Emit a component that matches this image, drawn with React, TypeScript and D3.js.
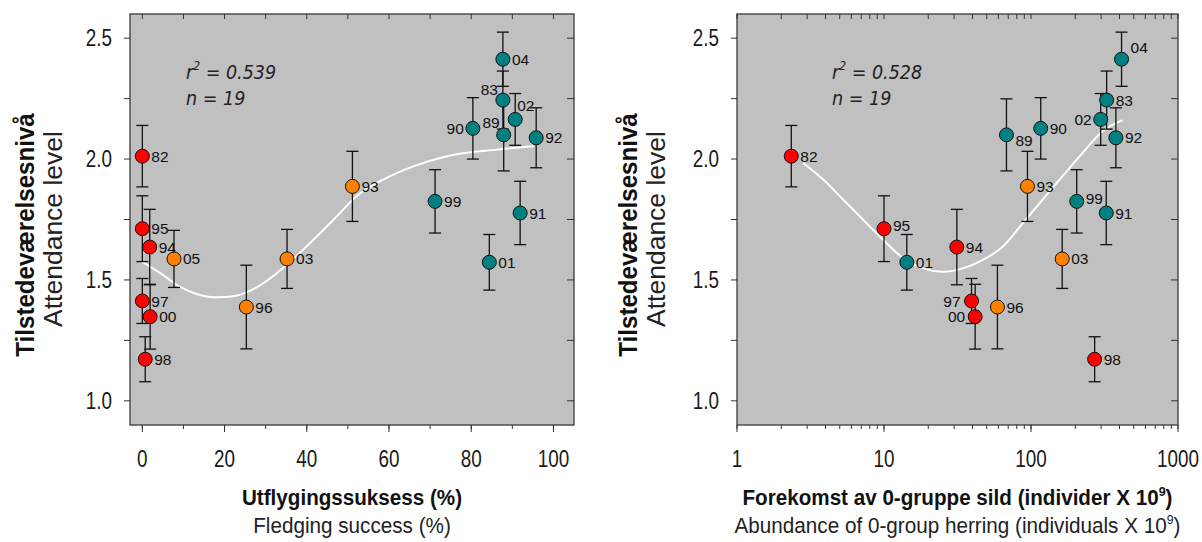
import React from "react";
import * as d3 from "d3";

// ---------- data ----------
const years = ["82", "95", "94", "97", "00", "98", "05", "96", "03", "93", "99", "01", "91", "90", "92", "02", "89", "83", "04"];
const groups = ["red", "red", "red", "red", "red", "red", "orange", "orange", "orange", "orange", "teal", "teal", "teal", "teal", "teal", "teal", "teal", "teal", "teal"];
const fledgingSuccess = [0, 0, 1.8, 0, 1.9, 0.7, 7.7, 25.3, 35.2, 51.1, 71.2, 84.4, 91.9, 80.4, 95.8, 90.7, 87.9, 87.7, 87.7];
const herringAbundance: (number | null)[] = [2.34, 10, 31.3, 39.4, 41.7, 271, null, 59.1, 163, 94.6, 204.6, 14.3, 325, 116.5, 378, 298, 68.1, 327, 413];
const attendance = [2.012, 1.712, 1.636, 1.413, 1.348, 1.172, 1.587, 1.388, 1.587, 1.887, 1.825, 1.573, 1.777, 2.127, 2.088, 2.164, 2.1, 2.244, 2.413];
const attendanceErr = [0.127, 0.136, 0.156, 0.093, 0.134, 0.093, 0.118, 0.173, 0.122, 0.145, 0.131, 0.115, 0.131, 0.127, 0.124, 0.107, 0.149, 0.12, 0.112];

const fitFledgingX = [0, 5.0, 9.1, 13.2, 18.0, 22.9, 29.4, 35.1, 41.6, 47.3, 52.1, 58.6, 65.9, 74.1, 86.2, 95.2];
const fitFledgingY = [1.575, 1.521, 1.472, 1.442, 1.428, 1.435, 1.486, 1.562, 1.666, 1.763, 1.846, 1.915, 1.97, 2.012, 2.039, 2.053];
const fitHerringX = [2.82, 3.86, 5.28, 7.21, 9.86, 13.5, 18.4, 25.2, 34.4, 47.1, 64.4, 87.9, 120, 164, 225, 307, 420];
const fitHerringY = [1.984, 1.915, 1.832, 1.749, 1.666, 1.59, 1.548, 1.534, 1.548, 1.583, 1.638, 1.735, 1.832, 1.929, 2.026, 2.115, 2.161];

const yTickValues = [1.0, 1.5, 2.0, 2.5];
const yMinorValues = [1.0, 1.25, 1.5, 1.75, 2.0, 2.25, 2.5];
const fledgingTickValues = [0, 20, 40, 60, 80, 100];
const fledgingMinorValues = [0, 10, 20, 30, 40, 50, 60, 70, 80, 90, 100];
const herringTickValues = [1, 10, 100, 1000];

const statsLeft = { r2: "0.539", n: "19" };
const statsRight = { r2: "0.528", n: "19" };

// ---------- style / layout ----------
const COLORS: Record<string, string> = { red: "#ff0000", orange: "#ff8000", teal: "#008080" };
const SANS = "'Liberation Sans', Arial, sans-serif";
const COND = "'DejaVu Sans Condensed', 'Liberation Sans', sans-serif";
const TOP = 14, BOTTOM = 425;

type Off = [number, number, "start" | "end"];
const leftLabelOff: Record<string, Off> = {
  "90": [-9, 0, "end"], "83": [-5, -11, "end"], "89": [-4, -12, "end"], "02": [2, -14, "start"],
};
const rightLabelOff: Record<string, Off> = {
  "89": [9, 6, "start"], "04": [9, -12, "start"], "02": [-9, 0, "end"], "95": [9, -3, "start"],
  "97": [-11, 0, "end"], "00": [-10, 0, "end"], "99": [9, -3, "start"],
};

const yScale = d3.scaleLinear().domain([0.9, 2.6]).range([BOTTOM, TOP]);

type TProps = {
  x: number; y: number; sx?: number; rot?: number; size: number; weight?: string;
  anchor?: "start" | "middle" | "end"; dy?: string; fill?: string; children: React.ReactNode;
};
function T({ x, y, sx = 1, rot = 0, size, weight = "normal", anchor = "start", dy, fill = "#1a1a1a", children }: TProps) {
  return (
    <text transform={`translate(${x},${y}) rotate(${rot}) scale(${sx},1)`} textAnchor={anchor} dy={dy}
      fontFamily={SANS} fontSize={size} fontWeight={weight} fill={fill}>
      {children}
    </text>
  );
}

type PanelProps = {
  x0: number; x1: number;
  xScale: (v: number) => number;
  xValues: (number | null)[];
  fitX: number[]; fitY: number[];
  majorX: number[]; minorX: number[];
  labelOff: Record<string, Off>;
  stats: { r2: string; n: string };
  statsX: number;
  ytitleX: [number, number];
  xTitle: React.ReactNode; xSub: React.ReactNode;
};

function Panel(p: PanelProps) {
  const line = d3.line<number>()
    .x((_, i) => p.xScale(p.fitX[i]))
    .y((_, i) => yScale(p.fitY[i]))
    .curve(d3.curveMonotoneX);
  const cx = (p.x0 + p.x1) / 2;
  const pts = years.map((y, i) => ({ y, i })).filter(d => p.xValues[d.i] !== null);
  return (
    <g>
      <rect x={p.x0} y={TOP} width={p.x1 - p.x0} height={BOTTOM - TOP} fill="#c0c0c0" stroke="#3a3a3a" strokeWidth={1.3} />
      {yMinorValues.map(v => (
        <g key={"y" + v}>
          <line x1={p.x0 - 6} x2={p.x0} y1={yScale(v)} y2={yScale(v)} stroke="#333" strokeWidth={1} />
          <line x1={p.x1 - 7} x2={p.x1} y1={yScale(v)} y2={yScale(v)} stroke="#333" strokeWidth={1} />
        </g>
      ))}
      {yTickValues.map(v => (
        <T key={"yl" + v} x={p.x0 - 18} y={yScale(v)} dy="0.36em" anchor="end" size={23} sx={0.82}>{v.toFixed(1)}</T>
      ))}
      {p.minorX.map(v => (
        <g key={"xm" + v}>
          <line x1={p.xScale(v)} x2={p.xScale(v)} y1={BOTTOM} y2={BOTTOM + 4} stroke="#333" strokeWidth={1} />
          <line x1={p.xScale(v)} x2={p.xScale(v)} y1={TOP} y2={TOP + 5} stroke="#333" strokeWidth={1} />
        </g>
      ))}
      {p.majorX.map(v => (
        <g key={"xM" + v}>
          <line x1={p.xScale(v)} x2={p.xScale(v)} y1={BOTTOM} y2={BOTTOM + 7} stroke="#333" strokeWidth={1} />
          <T x={p.xScale(v)} y={459} dy="0.36em" anchor="middle" size={23} sx={0.82}>{v}</T>
        </g>
      ))}
      <path d={line(p.fitX) || ""} fill="none" stroke="#ffffff" strokeWidth={2} />
      {pts.map(({ i }) => {
        const x = p.xScale(p.xValues[i] as number);
        const yt = yScale(attendance[i] + attendanceErr[i]);
        const yb = yScale(attendance[i] - attendanceErr[i]);
        return (
          <g key={"e" + i} stroke="#111" strokeWidth={1.3}>
            <line x1={x} x2={x} y1={yt} y2={yb} />
            <line x1={x - 6} x2={x + 6} y1={yt} y2={yt} />
            <line x1={x - 6} x2={x + 6} y1={yb} y2={yb} />
          </g>
        );
      })}
      {pts.map(({ i }) => (
        <circle key={"c" + i} cx={p.xScale(p.xValues[i] as number)} cy={yScale(attendance[i])} r={7}
          fill={COLORS[groups[i]]} stroke="#111" strokeWidth={1} />
      ))}
      {pts.map(({ y, i }) => {
        const o = p.labelOff[y] || [9, 0, "start"];
        return (
          <text key={"t" + i} x={p.xScale(p.xValues[i] as number) + o[0]} y={yScale(attendance[i]) + o[1]} dy="0.36em"
            textAnchor={o[2]} fontFamily={SANS} fontSize={15.5} fill="#111">{y}</text>
        );
      })}
      <text x={p.statsX} y={79} fontFamily={COND} fontStyle="italic" fontSize={19.5} fill="#222">
        r<tspan dy={-9} fontSize={12}>2</tspan><tspan dy={9}> = {p.stats.r2}</tspan>
      </text>
      <text x={p.statsX} y={105} fontFamily={COND} fontStyle="italic" fontSize={19.5} fill="#222">n = {p.stats.n}</text>
      <T x={cx} y={505} anchor="middle" size={21.5} sx={0.96} weight="bold" fill="#111">{p.xTitle}</T>
      <T x={cx} y={533} anchor="middle" size={22} sx={0.94} fill="#222">{p.xSub}</T>
      <T x={p.ytitleX[0]} y={235} rot={-90} anchor="middle" size={25} sx={0.965} weight="bold" fill="#111">Tilstedeværelsesnivå</T>
      <T x={p.ytitleX[1]} y={229} rot={-90} anchor="middle" size={25} sx={1.06} fill="#222">Attendance level</T>
    </g>
  );
}

export default function App() {
  const xLeft = d3.scaleLinear().domain([-3, 105]).range([130, 574]);
  const xRight = d3.scaleLog().domain([1, 1000]).range([737, 1178]);
  const herringMinor: number[] = [];
  [1, 10, 100].forEach(d => { for (let k = 1; k <= 9; k++) herringMinor.push(d * k); });
  herringMinor.push(1000);
  const sup = (
    <>10<tspan dy={-9} fontSize={13}>9</tspan><tspan dy={9}>)</tspan></>
  );
  return (
    <svg width={1202} height={542} style={{ position: "absolute", left: 0, top: 0, background: "#fff" }}>
      <Panel x0={130} x1={574} xScale={xLeft} xValues={fledgingSuccess}
        fitX={fitFledgingX} fitY={fitFledgingY}
        majorX={fledgingTickValues} minorX={fledgingMinorValues}
        labelOff={leftLabelOff} stats={statsLeft} statsX={186} ytitleX={[34, 62]}
        xTitle="Utflygingssuksess (%)" xSub="Fledging success (%)" />
      <Panel x0={737} x1={1178} xScale={xRight} xValues={herringAbundance}
        fitX={fitHerringX} fitY={fitHerringY}
        majorX={herringTickValues} minorX={herringMinor}
        labelOff={rightLabelOff} stats={statsRight} statsX={832} ytitleX={[637, 665]}
        xTitle={<>Forekomst av 0-gruppe sild (individer X {sup}</>}
        xSub={<>Abundance of 0-group herring (individuals X {sup}</>} />
    </svg>
  );
}
